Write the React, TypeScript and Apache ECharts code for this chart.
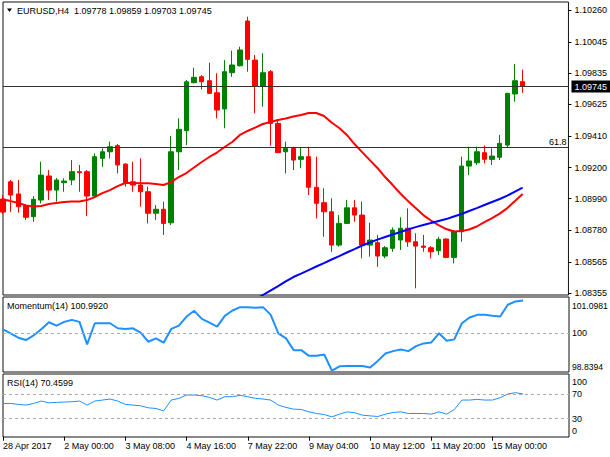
import React, { useEffect, useRef } from "react";
import * as echarts from "echarts";

const SYMBOL = "EURUSD,H4";
const timeLabels = [
  "28 Apr 2017", "2 May 00:00", "3 May 08:00", "4 May 16:00", "7 May 22:00",
  "9 May 04:00", "10 May 12:00", "11 May 20:00", "15 May 00:00",
];
const LABEL_STEP = 8;
const EMPTY_SLOTS = 6;

const opens = [
  1.08988, 1.09104, 1.09022, 1.08941, 1.08869, 1.08981, 1.09143, 1.09048, 1.09098, 1.09116,
  1.09172, 1.09172, 1.09008, 1.09262, 1.09306, 1.09347, 1.09223, 1.09104, 1.09082, 1.09037,
  1.08892, 1.08919, 1.08828, 1.09306, 1.09448, 1.09771, 1.09811, 1.09784, 1.09703, 1.09594,
  1.09838, 1.09885, 1.10186, 1.09923, 1.09748, 1.09845, 1.09497, 1.09306, 1.09329, 1.09255,
  1.09273, 1.09067, 1.08963, 1.08902, 1.08678, 1.08824, 1.08929, 1.08880, 1.08678, 1.08694,
  1.08604, 1.08656, 1.08712, 1.08791, 1.08700, 1.08671, 1.08660, 1.08640, 1.08719, 1.08595,
  1.08768, 1.09210, 1.09232, 1.09300, 1.09255, 1.09269, 1.09351, 1.09695, 1.09778,
];
const closes = [
  1.08900, 1.09015, 1.08936, 1.08865, 1.08986, 1.09149, 1.09048, 1.09116, 1.09109, 1.09172,
  1.09165, 1.09008, 1.09273, 1.09306, 1.09340, 1.09217, 1.09098, 1.09082, 1.09037, 1.08892,
  1.08919, 1.08824, 1.09306, 1.09457, 1.09777, 1.09807, 1.09777, 1.09699, 1.09587, 1.09845,
  1.09890, 1.09991, 1.09928, 1.09748, 1.09838, 1.09497, 1.09300, 1.09329, 1.09250, 1.09273,
  1.09067, 1.08959, 1.08902, 1.08678, 1.08824, 1.08929, 1.08880, 1.08678, 1.08712, 1.08604,
  1.08660, 1.08779, 1.08791, 1.08700, 1.08671, 1.08663, 1.08633, 1.08717, 1.08595, 1.08768,
  1.09210, 1.09244, 1.09306, 1.09255, 1.09277, 1.09363, 1.09699, 1.09784, 1.09745,
];
const lows = [
  1.08887, 1.08902, 1.08896, 1.08847, 1.08835, 1.08959, 1.08981, 1.08970, 1.09037, 1.09082,
  1.09037, 1.08873, 1.08993, 1.09205, 1.09262, 1.09161, 1.09071, 1.09037, 1.08936, 1.08824,
  1.08847, 1.08746, 1.08813, 1.09183, 1.09351, 1.09767, 1.09726, 1.09695, 1.09531, 1.09464,
  1.09811, 1.09880, 1.09845, 1.09565, 1.09609, 1.09347, 1.09298, 1.09161, 1.09183, 1.09195,
  1.09015, 1.08858, 1.08734, 1.08633, 1.08667, 1.08820, 1.08835, 1.08589, 1.08600, 1.08532,
  1.08589, 1.08633, 1.08645, 1.08667, 1.08387, 1.08633, 1.08589, 1.08611, 1.08589, 1.08555,
  1.08700, 1.09149, 1.09217, 1.09228, 1.09217, 1.09250, 1.09338, 1.09643, 1.09703,
];
const highs = [
  1.09015, 1.09116, 1.09116, 1.08954, 1.09008, 1.09239, 1.09183, 1.09129, 1.09127, 1.09250,
  1.09217, 1.09183, 1.09295, 1.09329, 1.09374, 1.09358, 1.09228, 1.09239, 1.09262, 1.09071,
  1.08947, 1.08970, 1.09412, 1.09531, 1.09789, 1.09872, 1.09822, 1.09905, 1.09834, 1.09923,
  1.09986, 1.10013, 1.10215, 1.09957, 1.09969, 1.09856, 1.09520, 1.09374, 1.09340, 1.09336,
  1.09340, 1.09273, 1.09060, 1.08993, 1.08880, 1.08981, 1.08981, 1.08970, 1.08828, 1.08746,
  1.08671, 1.08797, 1.08865, 1.08925, 1.08757, 1.08746, 1.08671, 1.08734, 1.08723, 1.08779,
  1.09273, 1.09340, 1.09340, 1.09348, 1.09329, 1.09419, 1.09703, 1.09897, 1.09859,
];

const maRed = [
  1.08985, 1.08974, 1.08961, 1.08944, 1.08937, 1.08941, 1.08954, 1.08961, 1.08968, 1.08971,
  1.08971, 1.08981, 1.09001, 1.09028, 1.09048, 1.09075, 1.09096, 1.09096, 1.09094, 1.09094,
  1.09089, 1.09082, 1.09102, 1.09136, 1.09163, 1.09200, 1.09237, 1.09271, 1.09301, 1.09338,
  1.09372, 1.09419, 1.09446, 1.09469, 1.09493, 1.09506, 1.09520, 1.09530, 1.09543, 1.09553,
  1.09567, 1.09567, 1.09547, 1.09503, 1.09466, 1.09419, 1.09358, 1.09304, 1.09250, 1.09197,
  1.09136, 1.09082, 1.09025, 1.08974, 1.08927, 1.08880, 1.08843, 1.08813, 1.08786, 1.08769,
  1.08772, 1.08783, 1.08803, 1.08833, 1.08860, 1.08890, 1.08927, 1.08974, 1.09022,
];
const maBlueStart = 33;
const maBlueValues = [
  1.08311, 1.08342, 1.08372, 1.08402, 1.08433, 1.08463, 1.08486, 1.08510, 1.08534, 1.08557,
  1.08581, 1.08604, 1.08628, 1.08651, 1.08675, 1.08695, 1.08715, 1.08732, 1.08749, 1.08766,
  1.08783, 1.08799, 1.08813, 1.08826, 1.08840, 1.08853, 1.08870, 1.08887, 1.08907, 1.08927,
  1.08948, 1.08968, 1.08988, 1.09011, 1.09038, 1.09065,
];
const momentum = [
  100.126, 100.004, 99.873, 99.802, 99.940, 100.126, 100.338, 100.237, 100.348, 100.409,
  100.348, 99.670, 100.308, 100.308, 100.308, 100.156, 100.136, 100.156, 100.024, 99.751,
  99.852, 99.721, 100.136, 100.237, 100.510, 100.682, 100.439, 100.328, 100.207, 100.530,
  100.692, 100.793, 100.793, 100.773, 100.793, 100.561, 100.004, 99.852, 99.498, 99.498,
  99.326, 99.326, 99.367, 98.880, 99.012, 99.022, 99.022, 99.022, 98.972, 99.174,
  99.397, 99.468, 99.518, 99.468, 99.620, 99.701, 99.731, 100.004, 99.782, 99.822,
  100.308, 100.480, 100.561, 100.561, 100.530, 100.510, 100.864, 100.966, 100.992,
];
const rsi = [
  54.9, 54.9, 53.3, 52.2, 54.9, 58.8, 56.0, 56.6, 57.2, 57.7,
  58.8, 52.2, 58.8, 60.5, 62.2, 58.8, 53.3, 52.2, 51.0, 47.7,
  46.6, 42.7, 60.5, 63.3, 68.8, 68.8, 67.7, 64.9, 60.5, 66.0,
  66.0, 68.3, 66.0, 63.3, 62.2, 60.5, 52.2, 48.3, 45.5, 44.9,
  41.0, 38.3, 36.6, 32.7, 37.2, 41.0, 39.4, 35.5, 34.4, 33.3,
  37.2, 39.9, 41.0, 38.3, 38.3, 38.3, 37.2, 41.0, 37.2, 44.9,
  60.5, 60.5, 61.6, 60.5, 60.5, 64.4, 70.5, 72.7, 70.4599,
];

const priceTicks = [1.1026, 1.10045, 1.09835, 1.09625, 1.0941, 1.092, 1.0899, 1.0878, 1.08565, 1.08355];
const PRICE_MIN = 1.08342;
const PRICE_MAX = 1.10314;
const currentPrice = 1.09745;
const fibLevel = 1.09334;
const fibLabel = "61.8";
const MOM_MIN = 98.8394;
const MOM_MAX = 101.0981;
const momLevels = [100];
const RSI_MIN = -0.5;
const RSI_MAX = 103.5;
const rsiLevels = [70, 30];
const rsiEdgeLabels = ["100", "0"];

const FONT = "Liberation Sans";
const FS = 9;

const G = [
  { left: 3, top: 2, width: 566, height: 293 },
  { left: 3, top: 297, width: 566, height: 75 },
  { left: 3, top: 374, width: 566, height: 63 },
];

export default function App() {
  const ref = useRef<HTMLDivElement>(null);
  useEffect(() => {
    document.body.style.margin = "0";
    if (!ref.current) return;
    const chart = echarts.init(ref.current, undefined, { renderer: "svg" });
    const n = opens.length + EMPTY_SLOTS;
    const categories = Array.from({ length: n }, (_, i) => String(i));
    const candles = opens.map((o, i) => [o, closes[i], lows[i], highs[i]]);
    const maBlue = opens.map((_, i) => (i >= maBlueStart ? maBlueValues[i - maBlueStart] : null));
    const last = opens.length - 1;
    const title = `${SYMBOL}\u00a0\u00a0${opens[last].toFixed(5)} ${highs[last].toFixed(5)} ${lows[last].toFixed(5)} ${closes[last].toFixed(5)}`;
    const isLabelIdx = (i: number) => i % LABEL_STEP === 0 && i / LABEL_STEP < timeLabels.length;
    const font = { fontFamily: FONT, fontSize: FS, color: "#000" };
    const dash = { color: "#aaaaaa", width: 1, type: [3, 3] as any };

    const xAxes = G.map((_, k) => ({
      type: "category",
      gridIndex: k,
      data: categories,
      boundaryGap: false,
      axisLine: { show: false },
      axisTick: k === 2
        ? { show: true, length: 4, interval: (i: number) => isLabelIdx(i), lineStyle: { color: "#000" } }
        : { show: false },
      axisLabel: k === 2
        ? {
            show: true,
            interval: (i: number) => isLabelIdx(i),
            formatter: (_v: string, i: number) => (isLabelIdx(i) ? timeLabels[i / LABEL_STEP] : ""),
            align: "left",
            margin: 4,
            ...font,
          }
        : { show: false },
      splitLine: { show: false },
    }));

    const yBase = (k: number, min: number, max: number, vals: number[], fmt: (v: number) => string, ticks: boolean, margin: number) => ({
      type: "value",
      gridIndex: k,
      position: "right",
      min,
      max,
      axisLine: { show: false },
      splitLine: { show: false },
      axisTick: { show: ticks, length: 3, customValues: vals, lineStyle: { color: "#000" } },
      axisLabel: { show: true, customValues: vals, formatter: fmt, margin, ...font },
    });

    const subX = G[0].left + G[0].width + 3;
    const gText = (text: string, x: number, y: number, size = FS) => ({
      type: "text",
      x,
      y,
      silent: true,
      style: { text, fill: "#000", fontFamily: FONT, fontSize: size, verticalAlign: "middle", align: "left" },
    });

    chart.setOption({
      animation: false,
      backgroundColor: "#fff",
      grid: G.map((g) => ({ ...g, show: true, borderColor: "#111", borderWidth: 1, backgroundColor: "#fff" })),
      xAxis: xAxes,
      yAxis: [
        yBase(0, PRICE_MIN, PRICE_MAX, priceTicks, (v) => v.toFixed(5), true, 6),
        yBase(1, MOM_MIN, MOM_MAX, momLevels, (v) => String(v), false, 3),
        yBase(2, RSI_MIN, RSI_MAX, rsiLevels, (v) => String(v), false, 3),
      ],
      series: [
        {
          type: "candlestick",
          xAxisIndex: 0,
          yAxisIndex: 0,
          data: candles,
          barWidth: 5,
          itemStyle: {
            color: "#008000",
            color0: "#ff0000",
            borderColor: "#008000",
            borderColor0: "#ff0000",
            borderWidth: 1,
          },
        },
        {
          type: "line",
          xAxisIndex: 0,
          yAxisIndex: 0,
          data: maRed,
          symbol: "none",
          clip: false,
          lineStyle: { color: "#ff0000", width: 2 },
          markLine: {
            silent: true,
            symbol: "none",
            animation: false,
            precision: 5,
            data: [
              {
                yAxis: currentPrice,
                lineStyle: { color: "#333", width: 1, type: "solid" },
                label: {
                  show: true,
                  position: "end",
                  formatter: currentPrice.toFixed(5),
                  backgroundColor: "#000",
                  color: "#fff",
                  padding: [2, 3, 1, 3],
                  distance: 3,
                  fontFamily: FONT,
                  fontSize: FS,
                },
              },
              {
                yAxis: fibLevel,
                lineStyle: { color: "#333", width: 1, type: "solid" },
                label: {
                  show: true,
                  position: "insideEndTop",
                  formatter: fibLabel,
                  distance: [2, 1],
                  ...font,
                },
              },
            ],
          },
        },
        {
          type: "line",
          xAxisIndex: 0,
          yAxisIndex: 0,
          data: maBlue,
          symbol: "none",
          lineStyle: { color: "#0000ff", width: 2 },
        },
        {
          type: "line",
          xAxisIndex: 1,
          yAxisIndex: 1,
          data: momentum,
          symbol: "none",
          lineStyle: { color: "#1e90ff", width: 2 },
          markLine: {
            silent: true,
            symbol: "none",
            precision: 4,
            label: { show: false },
            lineStyle: dash,
            data: momLevels.map((v) => ({ yAxis: v })),
          },
        },
        {
          type: "line",
          xAxisIndex: 2,
          yAxisIndex: 2,
          data: rsi,
          symbol: "none",
          lineStyle: { color: "#1e90ff", width: 1 },
          markLine: {
            silent: true,
            symbol: "none",
            precision: 4,
            label: { show: false },
            lineStyle: dash,
            data: rsiLevels.map((v) => ({ yAxis: v })),
          },
        },
      ],
      graphic: [
        { type: "polygon", silent: true, shape: { points: [[7, 8.5], [12, 8.5], [9.5, 12]] }, style: { fill: "#000" } },
        gText(title, 17, 10.5),
        gText(`Momentum(14) ${momentum[last].toFixed(4)}`, 7, 305.5),
        gText(`RSI(14) ${rsi[last].toFixed(4)}`, 7, 383),
        gText(MOM_MAX.toFixed(4), subX, 305.5, 8.6),
        gText(MOM_MIN.toFixed(4), subX, 367, 8.6),
        gText(rsiEdgeLabels[0], subX, 382),
        gText(rsiEdgeLabels[1], subX, 431),
      ],
    });
    return () => chart.dispose();
  }, []);
  return <div ref={ref} style={{ width: 610, height: 457 }} />;
}
